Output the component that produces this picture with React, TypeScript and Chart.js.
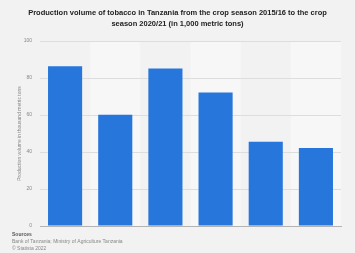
import React, { useEffect, useRef } from "react";
import { Chart, registerables } from "chart.js";

Chart.register(...registerables);

const seasons = ["2015/16", "2016/17", "2017/18", "2018/19", "2019/20", "2020/21"];
const production = [86.4, 60.2, 85.2, 72.1, 45.5, 42.2];
const yTicks = [0, 20, 40, 60, 80, 100];
const titleLines = [
  "Production volume of tobacco in Tanzania from the crop season 2015/16 to the crop",
  "season 2020/21 (in 1,000 metric tons)",
];
const yTitle = "Production volume in thousand metric tons";
const footerLines = ["Sources", "Bank of Tanzania; Ministry of Agriculture Tanzania", "© Statista 2022"];

const FONT = "'Liberation Sans', Arial, sans-serif";

const decorPlugin = {
  id: "decor",
  beforeDraw(chart: any) {
    const { ctx, width, height, chartArea, scales } = chart;
    ctx.save();
    ctx.fillStyle = "#f2f2f2";
    ctx.fillRect(0, 0, width, height);
    const x = scales.x;
    const n = seasons.length;
    const step = (chartArea.right - chartArea.left) / n;
    ctx.fillStyle = "#f7f7f7";
    for (let i = 1; i < n; i += 2) {
      const cx = x.getPixelForValue(i);
      ctx.fillRect(cx - step / 2, chartArea.top, step, chartArea.bottom - chartArea.top);
    }
    // title
    ctx.fillStyle = "#222";
    ctx.font = `bold 7.5px ${FONT}`;
    ctx.textAlign = "center";
    ctx.textBaseline = "middle";
    titleLines.forEach((t, i) => ctx.fillText(t, width / 2, 13 + i * 11));
    // footer
    ctx.textAlign = "left";
    ctx.fillStyle = "#555";
    ctx.font = `bold 5px ${FONT}`;
    ctx.fillText(footerLines[0], 12, 235);
    ctx.fillStyle = "#888";
    ctx.font = `5px ${FONT}`;
    ctx.fillText(footerLines[1], 12, 242);
    ctx.fillText(footerLines[2], 12, 248.5);
    ctx.restore();
  },
};

export default function App() {
  const ref = useRef<HTMLCanvasElement>(null);
  useEffect(() => {
    document.body.style.margin = "0";
    const chart = new Chart(ref.current!, {
      type: "bar",
      data: {
        labels: seasons,
        datasets: [
          {
            data: production,
            backgroundColor: "#2776dc",
            barPercentage: 0.68,
            categoryPercentage: 1,
          },
        ],
      },
      options: {
        animation: false,
        responsive: false,
        devicePixelRatio: 1,
        layout: { padding: { top: 41, left: 8, right: 14, bottom: 27 } },
        plugins: { legend: { display: false }, title: { display: false }, tooltip: { enabled: false } },
        scales: {
          x: {
            offset: true,
            grid: { display: false, drawTicks: false },
            border: { display: true, color: "#b3b3b3", width: 1 },
            ticks: { display: false },
          },
          y: {
            min: 0,
            max: 100,
            afterFit: (s: any) => {
              s.width = 32;
            },
            afterBuildTicks: (s: any) => {
              s.ticks = yTicks.map((v) => ({ value: v }));
            },
            grid: { color: "#dddddd", lineWidth: 1, drawTicks: false },
            border: { display: false },
            ticks: {
              padding: 8,
              color: "#888",
              font: { family: FONT, size: 5 },
            },
            title: {
              display: true,
              text: yTitle,
              color: "#888",
              font: { family: FONT, size: 5 },
              padding: { top: 9, bottom: 0 },
            },
          },
        },
      },
      plugins: [decorPlugin],
    });
    return () => chart.destroy();
  }, []);
  return (
    <div style={{ width: 355, height: 253 }}>
      <canvas ref={ref} width={355} height={253} style={{ display: "block" }} />
    </div>
  );
}
